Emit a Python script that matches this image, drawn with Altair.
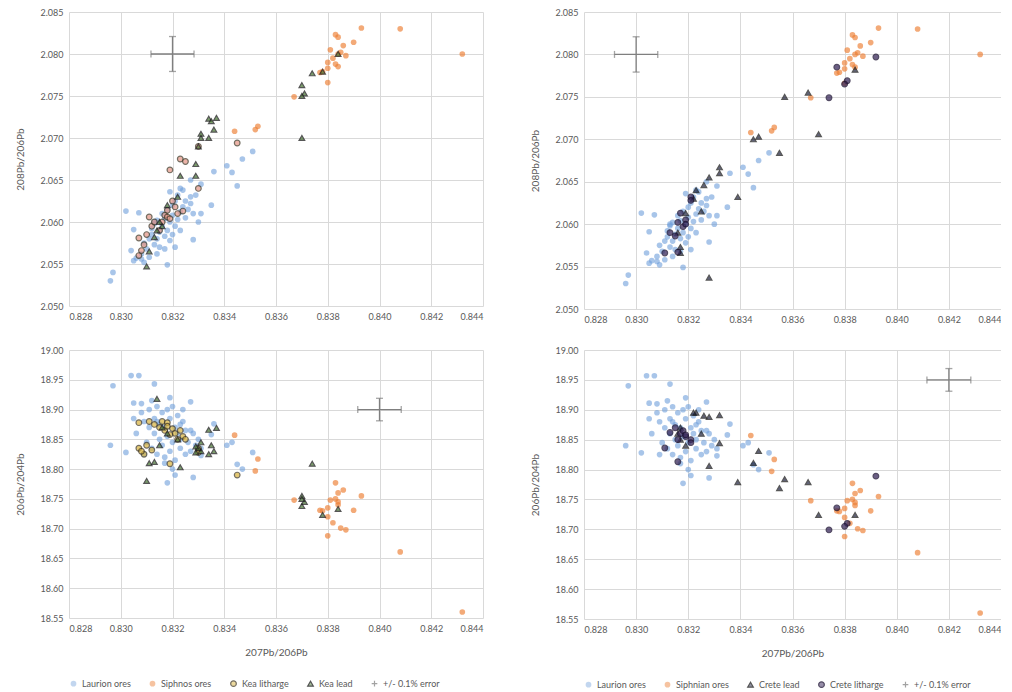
import altair as alt
import pandas as pd

# ---------------- data ----------------
laurion_x = [0.8296, 0.8297, 0.8302, 0.8304, 0.8307, 0.8305, 0.8305, 0.8313, 0.8328, 0.8318,
             0.8321, 0.8331, 0.8336, 0.8335, 0.8341, 0.8343, 0.8345, 0.8347, 0.8351, 0.8327,
             0.8308, 0.8306, 0.8308, 0.8309, 0.8310, 0.8311, 0.8311, 0.8312, 0.8312, 0.8313,
             0.8313, 0.8314, 0.8314, 0.8315, 0.8315, 0.8316, 0.8316, 0.8317, 0.8317, 0.8318,
             0.8318, 0.8319, 0.8319, 0.8320, 0.8320, 0.8321, 0.8321, 0.8322, 0.8322, 0.8323,
             0.8323, 0.8324, 0.8324, 0.8325, 0.8325, 0.8326, 0.8327, 0.8328, 0.8329, 0.8330,
             0.8331, 0.8317, 0.8320, 0.8323, 0.8319, 0.8309, 0.8314, 0.8327]
laurion_208 = [2.0530, 2.0540, 2.0613, 2.0566, 2.0611, 2.0591, 2.0554, 2.0600, 2.0579, 2.0549,
               2.0570, 2.0610, 2.0660, 2.0620, 2.0667, 2.0659, 2.0643, 2.0675, 2.0684, 2.0630,
               2.0556, 2.0557, 2.0562, 2.0575, 2.0568, 2.0580, 2.0558, 2.0585, 2.0592, 2.0573,
               2.0598, 2.0580, 2.0602, 2.0588, 2.0570, 2.0595, 2.0610, 2.0583, 2.0604, 2.0590,
               2.0615, 2.0578, 2.0600, 2.0608, 2.0620, 2.0595, 2.0625, 2.0603, 2.0632, 2.0612,
               2.0590, 2.0618, 2.0638, 2.0605, 2.0625, 2.0615, 2.0622, 2.0610, 2.0632, 2.0600,
               2.0645, 2.0568, 2.0585, 2.0640, 2.0636, 2.0552, 2.0562, 2.0650]
laurion_206 = [18.840, 18.940, 18.828, 18.957, 18.957, 18.911, 18.885, 18.943, 18.786, 18.777,
               18.790, 18.823, 18.876, 18.858, 18.840, 18.845, 18.808, 18.800, 18.828, 18.913,
               18.910, 18.860, 18.895, 18.880, 18.845, 18.900, 18.870, 18.835, 18.915, 18.860,
               18.885, 18.825, 18.905, 18.850, 18.875, 18.895, 18.840, 18.820, 18.870, 18.900,
               18.855, 18.830, 18.885, 18.845, 18.905, 18.815, 18.870, 18.860, 18.890, 18.835,
               18.850, 18.880, 18.900, 18.825, 18.865, 18.845, 18.830, 18.860, 18.840, 18.850,
               18.835, 18.810, 18.800, 18.875, 18.920, 18.825, 18.880, 18.865]

siphnos_x = [0.8432, 0.8408, 0.8393, 0.8390, 0.8383, 0.8384, 0.8381, 0.8384, 0.8387, 0.8380,
             0.8380, 0.8378, 0.8380, 0.8377, 0.8367, 0.8344, 0.8352, 0.8353, 0.8382, 0.8385,
             0.8383, 0.8386, 0.8384]
siphnos_208 = [2.0800, 2.0830, 2.0831, 2.0814, 2.0823, 2.0820, 2.0805, 2.0800, 2.0798, 2.0790,
               2.0783, 2.0779, 2.0766, 2.0778, 2.0749, 2.0708, 2.0710, 2.0714, 2.0795, 2.0802,
               2.0788, 2.0810, 2.0785]
siphnos_206 = [18.560, 18.661, 18.755, 18.731, 18.777, 18.760, 18.748, 18.740, 18.698, 18.735,
               18.720, 18.730, 18.688, 18.731, 18.748, 18.857, 18.797, 18.817, 18.710, 18.701,
               18.750, 18.765, 18.745]

kea_lith_x = [0.8307, 0.8307, 0.8309, 0.8310, 0.8311, 0.8312, 0.8313, 0.8315, 0.8316, 0.8317,
              0.8318, 0.8318, 0.8319, 0.8320, 0.8321, 0.8322, 0.8323, 0.8324, 0.8325, 0.8319,
              0.8330, 0.8345, 0.8308, 0.8330]
kea_lith_208 = [2.0560, 2.0581, 2.0573, 2.0585, 2.0606, 2.0595, 2.0600, 2.0590, 2.0600, 2.0608,
                2.0614, 2.0606, 2.0604, 2.0625, 2.0618, 2.0610, 2.0675, 2.0613, 2.0672, 2.0662,
                2.0640, 2.0694, 2.0566, 2.0690]
kea_lith_206 = [18.835, 18.878, 18.825, 18.840, 18.880, 18.832, 18.875, 18.870, 18.880, 18.865,
                18.878, 18.872, 18.809, 18.868, 18.860, 18.850, 18.865, 18.855, 18.850, 18.858,
                18.835, 18.790, 18.830, 18.828]

kea_lead_x = [0.8374, 0.8370, 0.8371, 0.8370, 0.8370, 0.8384, 0.8378, 0.8334, 0.8337, 0.8335,
              0.8331, 0.8331, 0.8334, 0.8330, 0.8329, 0.8323, 0.8329, 0.8322, 0.8318, 0.8315,
              0.8314, 0.8313, 0.8311, 0.8310, 0.8316, 0.8336]
kea_lead_208 = [2.0777, 2.0763, 2.0753, 2.0750, 2.0700, 2.0800, 2.0779, 2.0723, 2.0724, 2.0720,
                2.0705, 2.0700, 2.0700, 2.0690, 2.0669, 2.0655, 2.0655, 2.0630, 2.0620, 2.0600,
                2.0590, 2.0582, 2.0565, 2.0547, 2.0595, 2.0710]
kea_lead_206 = [18.809, 18.755, 18.745, 18.738, 18.750, 18.733, 18.723, 18.866, 18.869, 18.840,
                18.845, 18.830, 18.825, 18.835, 18.828, 18.803, 18.838, 18.850, 18.860, 18.840,
                18.918, 18.812, 18.810, 18.780, 18.870, 18.830]

crete_lead_x = [0.8384, 0.8366, 0.8357, 0.8370, 0.8355, 0.8345, 0.8347, 0.8339, 0.8328, 0.8332,
                0.8332, 0.8326, 0.8323, 0.8325, 0.8319, 0.8317, 0.8317, 0.8316, 0.8322, 0.8328]
crete_lead_208 = [2.0782, 2.0755, 2.0750, 2.0706, 2.0684, 2.0700, 2.0703, 2.0632, 2.0537, 2.0667,
                  2.0660, 2.0646, 2.0640, 2.0615, 2.0613, 2.0566, 2.0573, 2.0590, 2.0630, 2.0655]
crete_lead_206 = [18.724, 18.779, 18.784, 18.724, 18.769, 18.811, 18.831, 18.779, 18.806, 18.891,
                  18.844, 18.890, 18.895, 18.860, 18.840, 18.850, 18.870, 18.860, 18.895, 18.888]

crete_lith_x = [0.8392, 0.8377, 0.8381, 0.8380, 0.8374, 0.8317, 0.8319, 0.8318, 0.8315, 0.8311,
                0.8316, 0.8321, 0.8321, 0.8319, 0.8313, 0.8316]
crete_lith_208 = [2.0797, 2.0785, 2.0769, 2.0765, 2.0749, 2.0613, 2.0605, 2.0597, 2.0586, 2.0566,
                  2.0567, 2.0632, 2.0628, 2.0600, 2.0590, 2.0602]
crete_lith_206 = [18.789, 18.736, 18.710, 18.705, 18.699, 18.860, 18.855, 18.865, 18.870, 18.836,
                  18.813, 18.850, 18.845, 18.858, 18.862, 18.850]

# error-cross centres, one per panel (top-left, bottom-left, top-right, bottom-right)
err_cx = [0.832, 0.840, 0.830, 0.842]
err_cy = [2.080, 18.90, 2.080, 18.95]

x_ticks = [0.828, 0.830, 0.832, 0.834, 0.836, 0.838, 0.840, 0.842, 0.844]
y208_ticks = [2.050, 2.055, 2.060, 2.065, 2.070, 2.075, 2.080, 2.085]
y206_ticks = [18.55, 18.60, 18.65, 18.70, 18.75, 18.80, 18.85, 18.90, 18.95, 19.00]

ERR = "+/- 0.1% error"
left_series = ["Laurion ores", "Siphnos ores", "Kea litharge", "Kea lead", ERR]
right_series = ["Laurion ores", "Siphnian ores", "Crete lead", "Crete litharge", ERR]

CROSS = "M-1,0L1,0M0,-1L0,1"


def build(groups):
    rows = []
    for name, xs, a, b in groups:
        for xv, v8, v6 in zip(xs, a, b):
            rows.append({"series": name, "x": xv, "r208": v8, "r206": v6})
    return pd.DataFrame(rows)


left_df = build([
    ("Laurion ores", laurion_x, laurion_208, laurion_206),
    ("Siphnos ores", siphnos_x, siphnos_208, siphnos_206),
    ("Kea litharge", kea_lith_x, kea_lith_208, kea_lith_206),
    ("Kea lead", kea_lead_x, kea_lead_208, kea_lead_206),
])
right_df = build([
    ("Laurion ores", laurion_x, laurion_208, laurion_206),
    ("Siphnian ores", siphnos_x, siphnos_208, siphnos_206),
    ("Crete lead", crete_lead_x, crete_lead_208, crete_lead_206),
    ("Crete litharge", crete_lith_x, crete_lith_208, crete_lith_206),
])

left_style = dict(
    fill=["#6F9FDC", "#ED7D31", "#D8B23A", "#4F7E3A", "transparent"],
    stroke=["transparent", "transparent", "#3A3220", "#1E1E1E", "#8C8C8C"],
    shape=["circle", "circle", "circle", "triangle-up", CROSS],
    size=[32, 32, 50, 55, 60],
    opacity=[0.6, 0.8, 1, 1, 1],
)
right_style = dict(
    fill=["#6F9FDC", "#ED7D31", "#1E2140", "#3A2A5C", "transparent"],
    stroke=["transparent", "transparent", "#111111", "#1A1030", "#8C8C8C"],
    shape=["circle", "circle", "triangle-up", "circle", CROSS],
    size=[32, 32, 55, 85, 60],
    opacity=[0.6, 0.8, 1, 1, 1],
)

GRAY = "#595959"
FONT = "Lato"


def panel(df, domain, style, ycol, ydom, yticks, yfmt, ytitle, show_xtitle, cx, cy, w, h,
          lith_fill=None):
    xs = alt.Scale(domain=[0.828, 0.844], nice=False, zero=False, padding=0)
    ys = alt.Scale(domain=ydom, nice=False, zero=False, padding=0)
    if show_xtitle:
        xax = alt.Axis(values=x_ticks, tickCount=30, format=".3f", title="207Pb/206Pb",
                       labelOverlap=False)
    else:
        xax = alt.Axis(values=x_ticks, tickCount=30, format=".3f", title=None, labelOverlap=False)
    yax = alt.Axis(values=yticks, tickCount=30, format=yfmt, title=ytitle, labelOverlap=False)
    leg = alt.Legend(title=None, orient="bottom", direction="horizontal")
    base = alt.Chart(df).mark_point(filled=True, strokeWidth=1.2).encode(
        x=alt.X("x:Q", scale=xs, axis=xax),
        y=alt.Y(f"{ycol}:Q", scale=ys, axis=yax),
        fill=alt.Fill("series:N", scale=alt.Scale(domain=domain, range=style["fill"]), legend=leg),
        stroke=alt.Stroke("series:N", scale=alt.Scale(domain=domain, range=style["stroke"]), legend=leg),
        shape=alt.Shape("series:N", scale=alt.Scale(domain=domain, range=style["shape"]), legend=leg),
        size=alt.Size("series:N", scale=alt.Scale(domain=domain, range=style["size"]), legend=leg),
        opacity=alt.Opacity("series:N", scale=alt.Scale(domain=domain, range=style["opacity"]), legend=leg),
    )
    if lith_fill is None:
        point_layers = [base]
    else:
        point_layers = [
            base.transform_filter("datum.series != 'Kea litharge' && datum.series != 'Kea lead'"),
            base.transform_filter("datum.series == 'Kea litharge'").encode(fill=alt.value(lith_fill)),
            base.transform_filter("datum.series == 'Kea lead'"),
        ]
    edf = pd.DataFrame({"cx": [cx], "cy": [cy]})
    eb = alt.Chart(edf).transform_calculate(
        lo="datum.cx * 0.999", hi="datum.cx * 1.001",
        ylo="datum.cy * 0.999", yhi="datum.cy * 1.001")
    ecol = "#7F7F7F"
    hline = eb.mark_rule(color=ecol, strokeWidth=1.3).encode(x="lo:Q", x2="hi:Q", y="cy:Q")
    vline = eb.mark_rule(color=ecol, strokeWidth=1.3).encode(x="cx:Q", y="ylo:Q", y2="yhi:Q")
    cap1 = eb.mark_tick(color=ecol, orient="vertical", size=7, thickness=1.3).encode(x="lo:Q", y="cy:Q")
    cap2 = eb.mark_tick(color=ecol, orient="vertical", size=7, thickness=1.3).encode(x="hi:Q", y="cy:Q")
    cap3 = eb.mark_tick(color=ecol, orient="horizontal", size=7, thickness=1.3).encode(x="cx:Q", y="ylo:Q")
    cap4 = eb.mark_tick(color=ecol, orient="horizontal", size=7, thickness=1.3).encode(x="cx:Q", y="yhi:Q")
    return alt.layer(*point_layers, hline, vline, cap1, cap2, cap3, cap4).properties(width=w, height=h)


tl = panel(left_df, left_series, left_style, "r208", [2.050, 2.085], y208_ticks, ".3f",
           "208Pb/206Pb", False, err_cx[0], err_cy[0], 414, 294, lith_fill="#E59484")
bl = panel(left_df, left_series, left_style, "r206", [18.55, 19.00], y206_ticks, ".2f",
           "206Pb/204Pb", True, err_cx[1], err_cy[1], 414, 268)
tr = panel(right_df, right_series, right_style, "r208", [2.050, 2.085], y208_ticks, ".3f",
           "208Pb/206Pb", False, err_cx[2], err_cy[2], 417, 297)
br = panel(right_df, right_series, right_style, "r206", [18.55, 19.00], y206_ticks, ".2f",
           "206Pb/204Pb", True, err_cx[3], err_cy[3], 417, 269)

col_left = alt.vconcat(tl, bl, spacing=25)
col_right = alt.vconcat(tr, br, spacing=22)

chart = alt.hconcat(col_left, col_right, spacing=47).resolve_scale(
    fill="independent", stroke="independent", shape="independent",
    size="independent", opacity="independent",
).properties(
    padding={"left": 7, "top": 0, "right": 0, "bottom": 0}
).configure_view(stroke=None).configure_axis(
    labelFont=FONT, titleFont=FONT, labelFontSize=9, titleFontSize=10,
    labelColor=GRAY, titleColor=GRAY, titleFontWeight="normal",
    gridColor="#D9D9D9", domain=False, ticks=False, labelPadding=6,
    titlePadding=14,
).configure_legend(
    labelFont=FONT, labelFontSize=9, labelColor=GRAY, offset=22,
    columnPadding=16, symbolStrokeWidth=1.2,
)

chart.save("out.html", embed_options={"renderer": "svg", "actions": False})
